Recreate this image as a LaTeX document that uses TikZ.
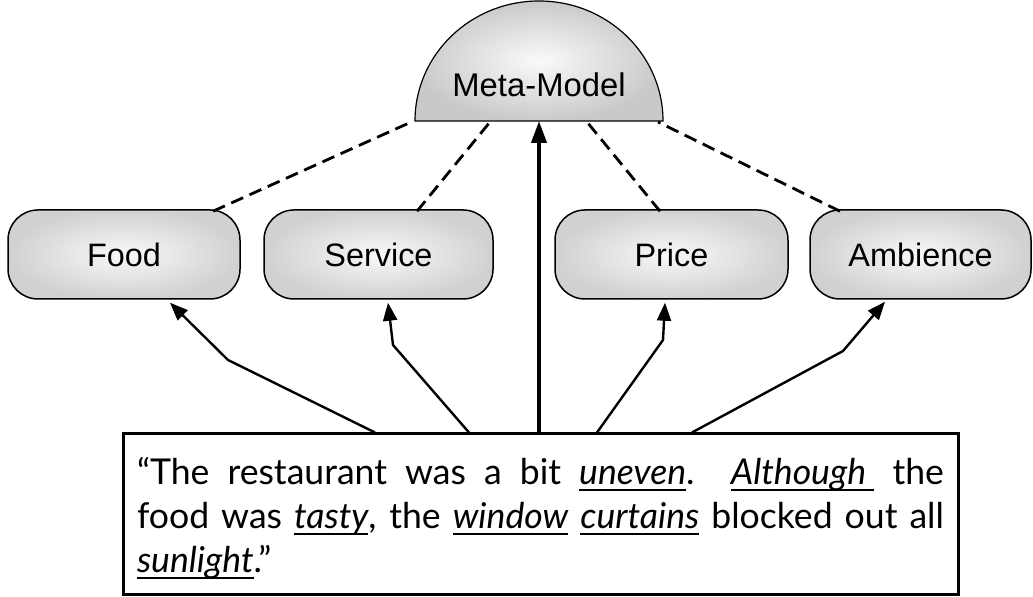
\documentclass[tikz,border=0pt]{standalone}
\usepackage{fontspec}
\setmainfont{Lato}
\newfontfamily\labelfont{Liberation Sans}
\usetikzlibrary{arrows.meta,calc}

% italic word with an underline at a fixed depth below the baseline
\newcommand\ulw[1]{\leavevmode\setbox0\hbox{\itshape #1}\rlap{\rule[-3pt]{\wd0}{0.75pt}}\box0\relax}
\newdimen\quotewd
\quotewd=403.5pt

\begin{document}
\begin{tikzpicture}[x=0.5pt,y=0.5pt,
  pill/.style={draw=black, line width=0.75pt, rounded corners=15pt,
    shade, inner color=gray!5, outer color=gray!36,
    minimum height=44.5pt, inner sep=0pt,
    font=\labelfont\fontsize{16.2}{19}\selectfont},
  dome/.style={draw=black, line width=0.6pt, inner color=gray!4, outer color=gray!42},
  quotebox/.style={draw=black, line width=1.5pt, fill=white,
    minimum width=417.5pt, minimum height=80.5pt, inner sep=0pt,
    font=\fontsize{17.8}{22}\selectfont},
  link/.style={dash pattern=on 6.5pt off 3.5pt, line width=1.4pt},
  arr/.style={line width=1.2pt, -{Triangle[length=9pt,width=7pt]}},
  mainarr/.style={line width=2pt, -{Triangle[length=11pt,width=7.5pt]}}
]
\useasboundingbox (0,0) rectangle (1033,597);

% Meta-model dome
\coordinate (domeL) at (415,476);
\coordinate (domeR) at (663,476);
\coordinate (domeMid) at (539,476);
\shade[dome] (domeL) arc[start angle=180,end angle=0,x radius=124,y radius=120] -- cycle;
\node[anchor=base, font=\labelfont\fontsize{16.4}{19}\selectfont] (meta) at (539,500) {Meta-Model};

% aspect models
\node[pill, minimum width=116pt]   (food)     at (124,342.5)   {\raisebox{-1pt}{Food}};
\node[pill, minimum width=114.5pt] (service)  at (378.5,342.5) {\raisebox{-1pt}{Service}};
\node[pill, minimum width=116.5pt] (price)    at (671.5,342.5) {\raisebox{-1pt}{Price}};
\node[pill, minimum width=110.5pt] (ambience) at (920.5,342.5) {\raisebox{-1pt}{Ambience}};

% review text, two justified lines and a short last line
\node[quotebox] (quote) at (540.5,82.5) {\vbox{\hsize=\quotewd \kern4pt
\hbox to\quotewd{“The restaurant was a bit \ulw{uneven}.\ \ \ulw{Although\ } the}
\hbox to\quotewd{food was \ulw{tasty}, the \ulw{window} \ulw{curtains} blocked out all}
\hbox{\ulw{sunlight}.”}}};

% links from the aspect models to the meta-model
\coordinate (dFood)  at (409,474);
\coordinate (dServ)  at (490,475);
\coordinate (dPrice) at (587,475);
\coordinate (dAmb)   at (658,475);
\draw[link] ($(food.north)+(89,-2)$) -- (dFood);
\draw[link] ($(service.north)+(38.5,-2)$) -- (dServ);
\draw[link] ($(price.north)+(-11.5,-2)$) -- (dPrice);
\draw[link] ($(ambience.north)+(-80.5,-2)$) -- (dAmb);

% arrows from the review text
\draw[arr] ($(quote.north)+(-165.5,0)$) -- (228,237) -- ($(food.south)+(46,-3)$);
\draw[arr] ($(quote.north)+(-71.5,0)$) -- (393,252) -- ($(service.south)+(9.5,-3)$);
\draw[mainarr] ($(quote.north)+(-1.5,0)$) -- (domeMid);
\draw[arr] ($(quote.north)+(56.5,0)$) -- (663,257) -- ($(price.south)+(-6.5,-3)$);
\draw[arr] ($(quote.north)+(151.5,0)$) -- (843,246) -- ($(ambience.south)+(-35.5,-2)$);
\end{tikzpicture}
\end{document}
